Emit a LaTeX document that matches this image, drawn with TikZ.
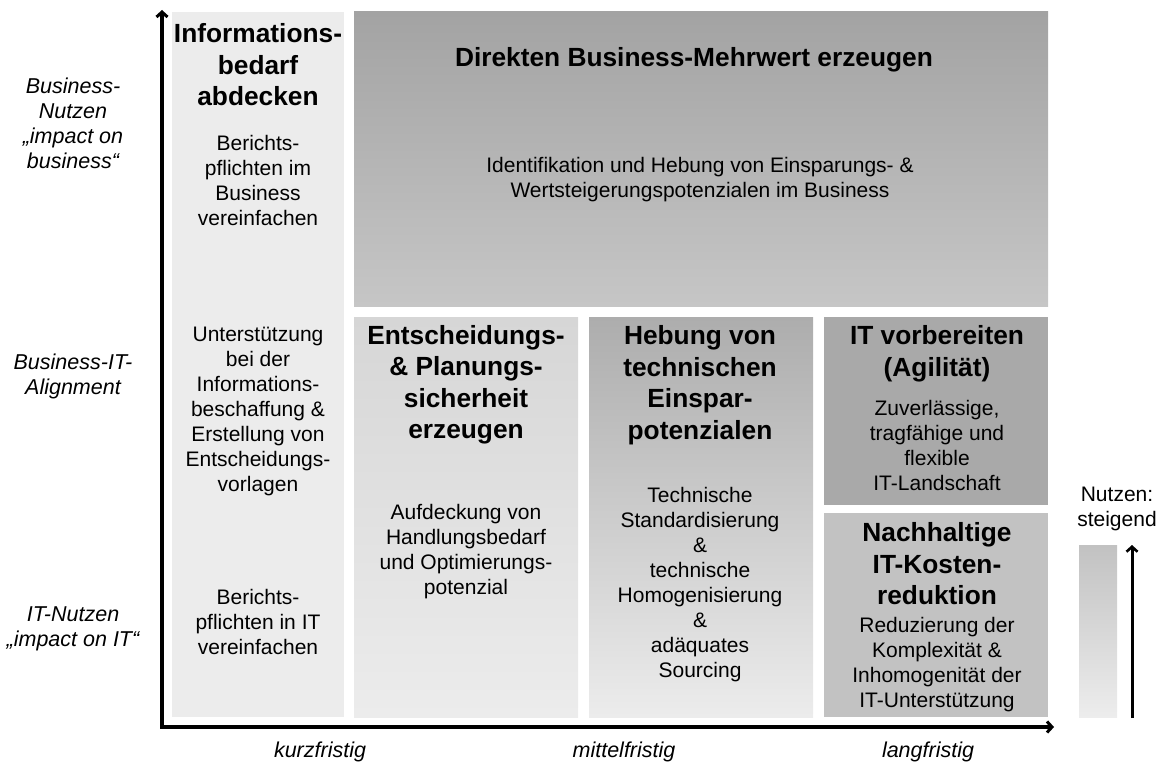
\documentclass[tikz,border=0pt]{standalone}
\usepackage{fontspec}
\setmainfont{Liberation Sans}
\usetikzlibrary{arrows.meta}
\definecolor{cL}{HTML}{ECECEC}
\definecolor{cTtop}{HTML}{A3A3A3}
\definecolor{cTbot}{HTML}{C6C6C6}
\definecolor{cEtop}{HTML}{D6D6D6}
\definecolor{cEmid}{HTML}{E7E7E7}
\definecolor{cEbot}{HTML}{ECECEC}
\definecolor{cHtop}{HTML}{ADADAD}
\definecolor{cHmid}{HTML}{DEDEDE}
\definecolor{cHbot}{HTML}{ECECEC}
\definecolor{cI}{HTML}{A9A9A9}
\definecolor{cN}{HTML}{C2C2C2}
\definecolor{cLgTop}{HTML}{C2C2C2}
\definecolor{cLgBot}{HTML}{EDEDED}
\tikzset{
  box/.style={draw=none, inner sep=0pt, outer sep=0pt},
  ttl/.style={align=center, inner sep=0pt, font=\fontsize{26.3}{31.5}\selectfont\bfseries},
  txt/.style={align=center, inner sep=0pt, font=\fontsize{21}{25}\selectfont},
  axl/.style={align=center, inner sep=0pt, font=\fontsize{21.5}{25}\selectfont\itshape},
  axis/.style={line width=3.6pt, {Straight Barb[length=5pt,width=11pt,line width=3pt]}-{Straight Barb[length=5pt,width=11pt,line width=3pt]}},
  legarrow/.style={line width=3pt, -{Straight Barb[length=5pt,width=11pt,line width=2.6pt]}}
}
\begin{document}
\begin{tikzpicture}[x=1pt,y=-1pt]
\useasboundingbox (0,0) rectangle (1161,765);
% boxes
\node[box, fill=cL, minimum width=172pt, minimum height=705pt] (L) at (258,364.5) {};
\node[box, top color=cTtop, bottom color=cTbot, minimum width=694pt, minimum height=294pt] (T) at (701,159) {};
\node[box, top color=cEtop, middle color=cEmid, bottom color=cEbot, minimum width=224pt, minimum height=400pt] (E) at (466,517) {};
\node[box, top color=cHtop, middle color=cHmid, bottom color=cHbot, minimum width=224pt, minimum height=400pt] (H) at (701,517) {};
\node[box, fill=cI, minimum width=224pt, minimum height=188pt] (I) at (936,411) {};
\node[box, fill=cN, minimum width=224pt, minimum height=204pt] (N) at (936,615) {};
\node[box, top color=cLgTop, bottom color=cLgBot, minimum width=38pt, minimum height=172pt] (LG) at (1098,631) {};
% axes
\coordinate (ytop) at (162,10);
\coordinate (O) at (162,727);
\coordinate (xend) at (1054,727);
\draw[axis] (ytop) -- (O) -- (xend);
\coordinate (lgb) at (1132,718);
\coordinate (lgt) at (1132,545);
\draw[legarrow] (lgb) -- (lgt);
% left column texts
\node[ttl] (Lt) at (258,65) {Informations-\\bedarf\\abdecken};
\node[txt] (Lb1) at (258,180) {Berichts-\\pflichten im\\Business\\vereinfachen};
\node[txt] (Lb2) at (258,411) {Unterstützung\\bei der\\Informations-\\beschaffung \&\\Erstellung von\\Entscheidungs-\\vorlagen};
\node[txt] (Lb3) at (258,622) {Berichts-\\pflichten in IT\\vereinfachen};
% top box
\node[ttl] (Tt) at (694,60) {Direkten Business-Mehrwert erzeugen};
\node[txt] (Tb) at (700,180) {Identifikation und Hebung von Einsparungs- \&\\Wertsteigerungspotenzialen im Business};
% E
\node[ttl] (Et) at (466,385) {Entscheidungs-\\\& Planungs-\\sicherheit\\erzeugen};
\node[txt] (Eb) at (466,552) {Aufdeckung von\\Handlungsbedarf\\und Optimierungs-\\potenzial};
% H
\node[ttl] (Ht) at (700,385) {Hebung von\\technischen\\Einspar-\\potenzialen};
\node[txt] (Hb) at (700,585) {Technische\\Standardisierung\\\&\\technische\\Homogenisierung\\\&\\adäquates\\Sourcing};
% I
\node[ttl] (It) at (937,354) {IT vorbereiten\\(Agilität)};
\node[txt] (Ib) at (937,445) {Zuverlässige,\\tragfähige und\\flexible\\IT-Landschaft};
% N
\node[ttl] (Nt) at (937,564) {Nachhaltige\\IT-Kosten-\\reduktion};
\node[txt] (Nb) at (937,665) {Reduzierung der\\Komplexität \&\\Inhomogenität der\\IT-Unterstützung};
% legend text
\node[txt] (LGt) at (1117,509) {Nutzen:\\steigend};
% y labels
\node[axl] (y1) at (73,123) {Business-\\Nutzen\\„impact on\\business“};
\node[axl] (y2) at (73,376) {Business-IT-\\Alignment};
\node[axl] (y3) at (73,629) {IT-Nutzen\\„impact on IT“};
% x labels
\node[axl] (x1) at (320,752) {kurzfristig};
\node[axl] (x2) at (624,752) {mittelfristig};
\node[axl] (x3) at (928,752) {langfristig};
\end{tikzpicture}
\end{document}
